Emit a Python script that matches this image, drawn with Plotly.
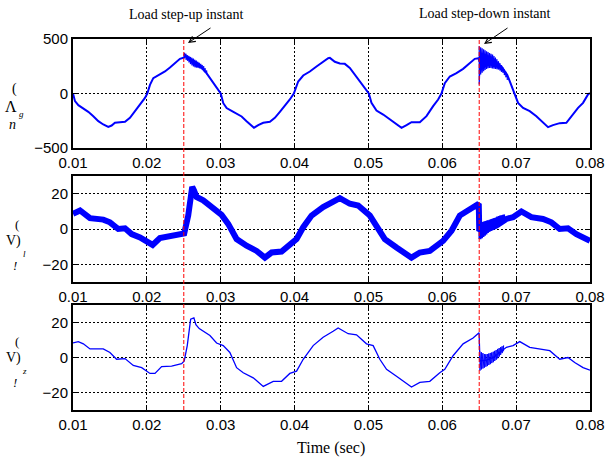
import plotly.graph_objects as go

# ---------------- data ----------------
top_t = [0.0100, 0.01027, 0.01072, 0.0114, 0.01207, 0.01275, 0.01343, 0.0141, 0.01478, 0.01523,
         0.01568, 0.01636, 0.01704, 0.01771, 0.01839, 0.01907, 0.01974, 0.02006, 0.02042, 0.02087,
         0.02155, 0.02245, 0.02313, 0.0238, 0.02448, 0.02507, 0.0251, 0.0260, 0.0270, 0.0281,
         0.02854, 0.02899, 0.02944, 0.0300, 0.03035, 0.0308, 0.03147, 0.03215, 0.03283, 0.0335,
         0.03418, 0.0345, 0.03508, 0.03576, 0.03666, 0.03733, 0.03801, 0.03869, 0.03936, 0.0399,
         0.04049, 0.04117, 0.04207, 0.04297, 0.04387, 0.04455, 0.04478, 0.04545, 0.04613, 0.0468,
         0.04748, 0.04816, 0.04883, 0.04951, 0.05005, 0.05041, 0.05109, 0.0520, 0.0529, 0.0538,
         0.05448, 0.05516, 0.05583, 0.05696, 0.05786, 0.05876, 0.05944, 0.05989, 0.06034, 0.06102,
         0.06192, 0.06282, 0.06372, 0.0644, 0.06494, 0.0650, 0.0660, 0.0670, 0.0680, 0.0688,
         0.06913, 0.06981, 0.07026, 0.07094, 0.07184, 0.07274, 0.07364, 0.07432, 0.07499, 0.0759,
         0.0768, 0.07748, 0.07838, 0.07906, 0.07973, 0.0800]
top_v = [0, -70, -107, -138, -168, -208, -254, -284, -306, -294,
         -269, -263, -260, -223, -162, -107, -40, 0, 79, 141,
         165, 202, 238, 278, 318, 330, 350, 310, 270, 185,
         144, 98, 52, 0, -89, -134, -159, -186, -211, -254,
         -300, -315, -290, -269, -260, -223, -168, -116, -55, 0,
         110, 165, 202, 248, 294, 324, 327, 291, 275, 272,
         235, 174, 113, 52, 0, -86, -156, -193, -238, -284,
         -315, -290, -263, -263, -208, -116, -55, 0, 95, 156,
         187, 226, 278, 318, 324, 300, 300, 290, 250, 170,
         113, 0, -86, -132, -162, -208, -269, -309, -290, -272,
         -269, -208, -132, -86, -9, 5]

top_up_t = [0.02510, 0.02530, 0.02550, 0.02570, 0.02590, 0.02610, 0.02630, 0.02650,
            0.02670, 0.02690, 0.02710, 0.02730, 0.02750, 0.02770, 0.02790, 0.02810]
top_up_hi = [373, 365, 352, 345, 335, 328, 320, 310, 302, 292, 282, 272, 262, 250, 232, 210]
top_up_lo = [330, 310, 300, 285, 270, 258, 248, 240, 238, 236, 232, 226, 216, 205, 190, 176]

top_dn_t = [0.06500, 0.06520, 0.06540, 0.06560, 0.06580, 0.06600, 0.06620, 0.06640, 0.06660, 0.06680,
            0.06700, 0.06720, 0.06740, 0.06760, 0.06780, 0.06800, 0.06820, 0.06840, 0.06860, 0.06880]
top_dn_hi = [434, 425, 415, 405, 396, 388, 380, 372, 365, 358, 345, 330, 315, 297, 280, 260, 240, 220, 200, 170]
top_dn_lo = [82, 174, 190, 205, 215, 225, 232, 235, 233, 230, 228, 225, 222, 220, 210, 200, 190, 170, 150, 125]

mid_t = [0.0100, 0.01095, 0.0123, 0.0141, 0.0150, 0.01613, 0.01704, 0.01794, 0.01907, 0.01997,
         0.02078, 0.02177, 0.02313, 0.02448, 0.02506, 0.0256, 0.02614, 0.02637, 0.02674, 0.02763,
         0.02899, 0.03012, 0.03101, 0.03215, 0.0335, 0.03486, 0.03598, 0.03689, 0.03824, 0.03936,
         0.04027, 0.04117, 0.0423, 0.04387, 0.04522, 0.04613, 0.04748, 0.04861, 0.05019, 0.0511,
         0.05222, 0.0538, 0.05583, 0.05696, 0.05831, 0.06011, 0.06125, 0.06237, 0.06373, 0.06494,
         0.06500, 0.0655, 0.0665, 0.06733, 0.06868, 0.06958, 0.07071, 0.07206, 0.07364, 0.07477,
         0.0759, 0.07702, 0.07816, 0.07906, 0.0800]
mid_v = [8.6, 10.5, 6.1, 5.3, 3.8, 0.0, 0.4, -2.9, -4.8, -6.7,
         -9.0, -5.1, -4.2, -3.4, -2.5, 7.6, 23.8, 21.9, 18.1, 16.2,
         11.4, 8.0, 2.9, -5.7, -9.5, -12.4, -16.2, -13.3, -12.8, -8.6,
         -5.7, 1.0, 7.6, 12.4, 15.6, 17.5, 14.3, 13.3, 7.6, 1.9,
         -5.7, -10.5, -16.2, -13.3, -12.4, -6.7, -1.0, 7.6, 11.0, 14.3,
         0.0, -1.0, 0.5, 1.9, 5.7, 6.7, 9.9, 6.7, 5.7, 3.8,
         0.0, 0.4, -2.9, -4.8, -6.7]

mid_dn_t = [0.06500, 0.06520, 0.06540, 0.06560, 0.06580, 0.06600, 0.06620, 0.06640, 0.06660,
            0.06680, 0.06700, 0.06720, 0.06740, 0.06760, 0.06780, 0.06800, 0.06820, 0.06840]
mid_dn_hi = [12.0, 3.8, 4.0, 4.2, 4.5, 4.8, 5.0, 5.3, 5.6, 5.9, 6.2, 6.5, 7.0, 7.3, 7.6, 7.8, 8.0, 8.2]
mid_dn_lo = [-5.7, -5.7, -5.2, -4.5, -3.8, -3.0, -2.2, -1.5, -1.0, -0.3, 0.5, 1.2, 1.9, 2.5, 3.2, 4.0, 4.8, 5.5]

bot_t = [0.0100, 0.01072, 0.0114, 0.0123, 0.0141, 0.0150, 0.0159, 0.01704, 0.01816, 0.0193,
         0.02042, 0.0211, 0.0220, 0.02335, 0.02471, 0.02506, 0.02547, 0.02593, 0.02637, 0.02664,
         0.02709, 0.02763, 0.02854, 0.02944, 0.03034, 0.03124, 0.03215, 0.03305, 0.0344, 0.03576,
         0.03711, 0.03824, 0.03936, 0.04027, 0.04117, 0.04252, 0.04387, 0.04522, 0.0459, 0.04726,
         0.04839, 0.04974, 0.05064, 0.05154, 0.05245, 0.0538, 0.05583, 0.05696, 0.05831, 0.05966,
         0.06034, 0.06146, 0.06282, 0.06417, 0.06498, 0.06510, 0.0660, 0.0669, 0.06778, 0.06868,
         0.06958, 0.07049, 0.07184, 0.07297, 0.07455, 0.0759, 0.07702, 0.07793, 0.07906, 0.0800]
bot_v = [8.3, 9.1, 7.8, 4.9, 4.9, 2.9, -1.0, -0.6, -4.5, -5.8,
         -9.1, -9.1, -5.2, -4.9, -3.5, -1.9, 6.8, 21.9, 22.7, 18.8,
         16.5, 14.9, 12.6, 8.3, 6.8, 2.9, -5.8, -8.7, -11.6, -16.5,
         -13.6, -13.6, -9.1, -7.8, -1.0, 6.8, 11.6, 15.0, 16.9, 13.6,
         13.0, 7.8, 6.8, -1.0, -6.8, -10.7, -16.9, -14.2, -13.6, -8.7,
         -6.8, 1.0, 7.8, 11.1, 14.2, -2.0, -1.5, 0.0, 2.9, 5.8,
         6.8, 9.1, 5.8, 4.9, 3.9, -1.0, 0.0, -2.9, -5.8, -7.2]

bot_dn_t = [0.06510, 0.06530, 0.06550, 0.06570, 0.06590, 0.06610, 0.06630, 0.06650, 0.06670,
            0.06690, 0.06710, 0.06730, 0.06750, 0.06770, 0.06790, 0.06810, 0.06830]
bot_dn_hi = [3.5, 3.0, 2.5, 2.0, 1.9, 2.0, 2.3, 2.6, 2.9, 3.3, 3.8, 4.3, 4.9, 5.4, 5.9, 6.4, 6.8]
bot_dn_lo = [-7.5, -6.8, -6.3, -5.8, -5.3, -4.9, -4.3, -3.8, -3.2, -2.7, -2.0, -1.3, -0.5, 0.5, 1.5, 2.5, 3.5]

x_ticks = [0.01, 0.02, 0.03, 0.04, 0.05, 0.06, 0.07, 0.08]
x_tick_labels = ["0.01", "0.02", "0.03", "0.04", "0.05", "0.06", "0.07", "0.08"]
top_y_ticks = [-500, 0, 500]
small_y_ticks = [-20, 0, 20]
event_times = [0.025, 0.065]
event_labels = ["Load step-up instant", "Load step-down instant"]
x_title = "Time (sec)"

# ---------------- figure ----------------
W, H = 608, 462
BLUE = "#0000ff"


def zigzag(ts, hi, lo):
    xs, ys = [], []
    for t, a, b in zip(ts, hi, lo):
        xs += [t, t]
        ys += [a, b]
    return xs, ys


fig = go.Figure()
fig.add_trace(go.Scatter(x=top_t, y=top_v, mode="lines", line=dict(color=BLUE, width=2),
                         xaxis="x", yaxis="y"))
for ts, hi, lo in [(top_up_t, top_up_hi, top_up_lo), (top_dn_t, top_dn_hi, top_dn_lo)]:
    zx, zy = zigzag(ts, hi, lo)
    fig.add_trace(go.Scatter(x=zx, y=zy, mode="lines", line=dict(color=BLUE, width=1.2),
                             xaxis="x", yaxis="y"))

fig.add_trace(go.Scatter(x=mid_t, y=mid_v, mode="lines", line=dict(color=BLUE, width=6),
                         xaxis="x2", yaxis="y2"))
zx, zy = zigzag(mid_dn_t, mid_dn_hi, mid_dn_lo)
fig.add_trace(go.Scatter(x=zx, y=zy, mode="lines", line=dict(color=BLUE, width=1.5),
                         xaxis="x2", yaxis="y2"))

fig.add_trace(go.Scatter(x=bot_t, y=bot_v, mode="lines", line=dict(color=BLUE, width=1.3),
                         xaxis="x3", yaxis="y3"))
zx, zy = zigzag(bot_dn_t, bot_dn_hi, bot_dn_lo)
fig.add_trace(go.Scatter(x=zx, y=zy, mode="lines", line=dict(color=BLUE, width=1.0),
                         xaxis="x3", yaxis="y3"))


def px_x(p):
    return p / W


def px_y(p):
    return 1 - p / H


xdom = [px_x(73), px_x(590)]
doms = [[px_y(148), px_y(39)], [px_y(282), px_y(176)], [px_y(410), px_y(305)]]

tickfont = dict(family="Liberation Sans, Arial, sans-serif", size=15, color="black")
common_ax = dict(showline=True, linecolor="black", linewidth=2, mirror="ticks",
                 ticks="inside", ticklen=5, tickcolor="black", tickwidth=1,
                 showgrid=True, gridcolor="black", gridwidth=1, griddash="2px,2px",
                 zeroline=False, tickfont=tickfont, automargin=False)

layout = dict(width=W, height=H, margin=dict(l=0, r=0, t=0, b=0, pad=0, autoexpand=False),
              paper_bgcolor="white", plot_bgcolor="white", showlegend=False)
ynames = ["y", "y2", "y3"]
for i in range(3):
    xa = "xaxis" if i == 0 else f"xaxis{i+1}"
    ya = "yaxis" if i == 0 else f"yaxis{i+1}"
    layout[xa] = dict(domain=xdom, anchor=ynames[i], range=[0.01, 0.08],
                      tickvals=x_ticks, ticktext=x_tick_labels, **common_ax)
    if i == 0:
        layout[ya] = dict(domain=doms[i], anchor="x", range=[-500, 500],
                          tickvals=top_y_ticks, **common_ax)
    else:
        layout[ya] = dict(domain=doms[i], anchor=f"x{i+1}", range=[-30, 30],
                          tickvals=small_y_ticks, **common_ax)
fig.update_layout(**layout)

shapes = []
for t in event_times:
    shapes.append(dict(type="line", xref="x", yref="paper", x0=t, x1=t,
                       y0=doms[2][0], y1=doms[0][1],
                       line=dict(color="red", width=1, dash="4px,2px")))
fig.update_layout(shapes=shapes)

serif = "Liberation Serif, Times New Roman, serif"
ann = []
# event labels + arrows
label_pos = [(186, 15), (485, 14)]
arrow_heads = [(188, 43), (484, 44)]
arrow_tails = [(212, 27), (509, 27)]
for lab, (lx, ly), (hx, hy), (tx, ty) in zip(event_labels, label_pos, arrow_heads, arrow_tails):
    ann.append(dict(text=lab, x=px_x(lx), y=px_y(ly), xref="paper", yref="paper",
                    showarrow=False, font=dict(family=serif, size=14, color="black"),
                    xanchor="center", yanchor="middle"))
    ann.append(dict(text="", x=px_x(hx), y=px_y(hy), xref="paper", yref="paper",
                    ax=tx - hx, ay=ty - hy, showarrow=True, arrowhead=5, arrowsize=1.2,
                    arrowwidth=1, arrowcolor="black"))

ann.append(dict(text=x_title, x=px_x(331), y=px_y(448), xref="paper", yref="paper",
                showarrow=False, font=dict(family=serif, size=16, color="black"),
                xanchor="center", yanchor="middle"))

# garbled y-axis labels (as in the reference)
ylabel_parts = [
    [("(", 14, 89, 14, False), ("Λ", 11, 106, 16, False), ("g", 21, 114, 9, True), ("n", 12, 124, 14, True)],
    [("(", 17, 224, 13, False), ("V)", 13, 241, 14, False), ("l", 24, 254, 9, True), ("!", 15, 265, 13, True)],
    [("(", 17, 341, 13, False), ("V)", 13, 358, 14, False), ("z", 24, 371, 9, True), ("!", 15, 382, 13, True)],
]
for parts in ylabel_parts:
    for txt, x, y, sz, it in parts:
        ann.append(dict(text=f"<i>{txt}</i>" if it else txt, x=px_x(x), y=px_y(y),
                        xref="paper", yref="paper", showarrow=False,
                        font=dict(family=serif, size=sz, color="black"),
                        xanchor="center", yanchor="middle"))
fig.update_layout(annotations=ann)

fig.write_html("out.html")
